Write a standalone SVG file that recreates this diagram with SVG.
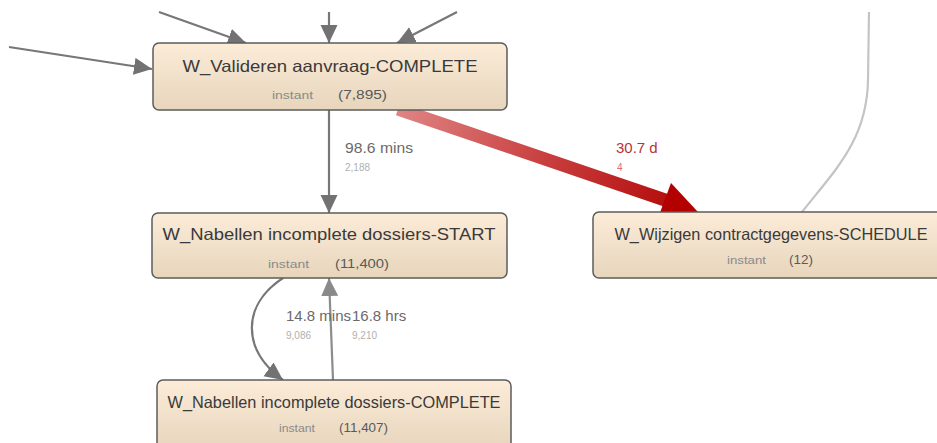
<svg xmlns="http://www.w3.org/2000/svg" width="937" height="443" viewBox="0 0 937 443">
  <defs>
    <linearGradient id="nodeFill" x1="0" y1="0" x2="0" y2="1">
      <stop offset="0" stop-color="#fcecd8"/>
      <stop offset="1" stop-color="#e7d5bc"/>
    </linearGradient>
    <linearGradient id="hotEdge" gradientUnits="userSpaceOnUse" x1="395" y1="108" x2="690" y2="209">
      <stop offset="0" stop-color="#e08686"/>
      <stop offset="0.5" stop-color="#c94040"/>
      <stop offset="1" stop-color="#b20606"/>
    </linearGradient>
    <marker id="arrowDark" markerUnits="userSpaceOnUse" markerWidth="20" markerHeight="18" refX="18" refY="9" orient="auto">
      <path d="M0,0.5 L18,9 L0,17.5 z" fill="#727272"/>
    </marker>
    <marker id="arrowLight" markerUnits="userSpaceOnUse" markerWidth="20" markerHeight="18" refX="18" refY="9" orient="auto">
      <path d="M0,0.5 L18,9 L0,17.5 z" fill="#8a8a8a"/>
    </marker>
  </defs>
  <style>
    .node rect { fill: url(#nodeFill); stroke: #5c5c5c; stroke-width: 1.5; }
    .title { font-family: "Liberation Sans", Arial, sans-serif; font-size: 16.5px; fill: #3a3a3a; text-anchor: middle; }
    .kind { font-family: "Liberation Sans", Arial, sans-serif; font-size: 10.5px; fill: #8a8a8a; }
    .count { font-family: "Liberation Sans", Arial, sans-serif; font-size: 12.5px; fill: #5a5a5a; }
    .edge { fill: none; stroke: #777; stroke-width: 2.2; }
    .edge.soft { stroke: #8c8c8c; }
    .edge.faint { stroke: #c4c4c4; }
    .lbl { font-family: "Liberation Sans", Arial, sans-serif; font-size: 15px; fill: #6a6a6a; }
    .sub { font-family: "Liberation Sans", Arial, sans-serif; font-size: 10px; fill: #b0b0b0; }
    .lbl.red { fill: #b5343a; }
    .sub.red { fill: #d87070; }
  </style>

  <!-- connectors -->
  <g id="edges">
    <path class="edge" d="M9,47 L152,69" marker-end="url(#arrowDark)"/>
    <path class="edge" d="M159,12 L246,43" marker-end="url(#arrowDark)"/>
    <path class="edge" d="M329,12 L329,43" marker-end="url(#arrowDark)"/>
    <path class="edge" d="M457,12 L397,43" marker-end="url(#arrowDark)"/>
    <path class="edge faint" d="M869,12 L868,80 C867,140 835,170 802,212"/>
    <path class="edge" d="M329,110 L329,213" marker-end="url(#arrowDark)"/>
    <path class="edge" d="M283,278 C242,305 241,349 283,380" marker-end="url(#arrowDark)"/>
    <path class="edge soft" d="M333,380 L329,278" marker-end="url(#arrowLight)"/>
    <!-- heavy red edge -->
    <line x1="398" y1="109" x2="668" y2="201" stroke="url(#hotEdge)" stroke-width="13"/>
    <polygon points="698,212 671,183 658,218" fill="#b30000"/>

    <text class="lbl" x="345" y="153" textLength="68" lengthAdjust="spacingAndGlyphs">98.6 mins</text>
    <text class="sub" x="345" y="171">2,188</text>
    <text class="lbl red" x="616" y="153">30.7 d</text>
    <text class="sub red" x="617" y="171">4</text>
    <text class="lbl" x="286" y="321">14.8 mins</text>
    <text class="sub" x="286" y="339">9,086</text>
    <text class="lbl" x="352" y="321">16.8 hrs</text>
    <text class="sub" x="352" y="339">9,210</text>
  </g>

  <g id="node-valideren-complete" class="node">
    <rect x="153" y="43" width="354" height="67" rx="6"/>
    <text class="title" x="330" y="72" textLength="295" lengthAdjust="spacingAndGlyphs">W_Valideren aanvraag-COMPLETE</text>
    <text class="kind" x="272" y="99" textLength="41" lengthAdjust="spacingAndGlyphs">instant</text>
    <text class="count" x="338" y="99" textLength="49" lengthAdjust="spacingAndGlyphs">(7,895)</text>
  </g>

  <g id="node-nabellen-start" class="node">
    <rect x="152" y="213" width="355" height="65" rx="6"/>
    <text class="title" x="329" y="240" textLength="333" lengthAdjust="spacingAndGlyphs">W_Nabellen incomplete dossiers-START</text>
    <text class="kind" x="268" y="268" textLength="41" lengthAdjust="spacingAndGlyphs">instant</text>
    <text class="count" x="335" y="268" textLength="54" lengthAdjust="spacingAndGlyphs">(11,400)</text>
  </g>

  <g id="node-wijzigen-schedule" class="node">
    <rect x="593" y="212" width="355" height="66" rx="6"/>
    <text class="title" x="771" y="240" textLength="313" lengthAdjust="spacingAndGlyphs">W_Wijzigen contractgegevens-SCHEDULE</text>
    <text class="kind" x="727" y="264" textLength="39" lengthAdjust="spacingAndGlyphs">instant</text>
    <text class="count" x="789" y="264" textLength="24" lengthAdjust="spacingAndGlyphs">(12)</text>
  </g>

  <g id="node-nabellen-complete" class="node">
    <rect x="157" y="380" width="354" height="70" rx="6"/>
    <text class="title" x="334" y="408" textLength="333" lengthAdjust="spacingAndGlyphs">W_Nabellen incomplete dossiers-COMPLETE</text>
    <text class="kind" x="279" y="432" textLength="36" lengthAdjust="spacingAndGlyphs">instant</text>
    <text class="count" x="339" y="432" textLength="49" lengthAdjust="spacingAndGlyphs">(11,407)</text>
  </g>
</svg>
